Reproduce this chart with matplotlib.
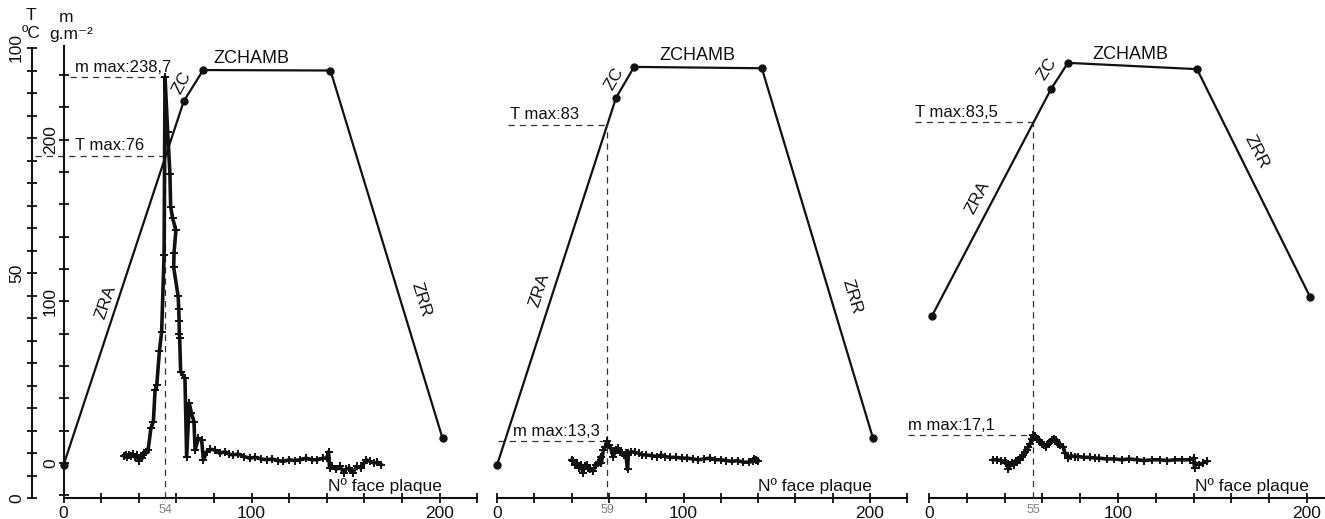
import matplotlib
matplotlib.use("Agg")
import matplotlib.pyplot as plt
from matplotlib.ticker import FixedLocator, FixedFormatter

plt.rcParams['font.family'] = ['Liberation Sans', 'DejaVu Sans']

# ---------------------------------------------------------------- data
# temperature profile along the kiln (plate face number -> T in degC)
temp_x_1 = [0, 64.0, 74.3, 142.0, 201.6]
temp_y_1 = [7.3, 88.2, 95.1, 95.0, 13.3]
temp_x_2 = [0, 63.8, 73.5, 142.0, 201.6]
temp_y_2 = [7.3, 88.9, 95.8, 95.5, 13.3]
temp_x_3 = [1.5, 64.6, 73.5, 141.8, 201.6]
temp_y_3 = [40.4, 90.9, 96.7, 95.3, 44.7]

# deposited mass per face (g.m-2)
mass_x_1 = [32, 33, 34, 35, 36, 37, 38, 39, 40, 41, 42, 43, 44, 45,
            46.5, 47.8, 48.7, 49.6, 51.0, 52.2, 53.5, 54.0,
            55.4, 56.6, 57.0, 58.0, 59.8, 58.8, 58.6, 61.0, 61.3, 61.5,
            61.6, 61.8, 62.3, 64.6, 65.5, 66.9, 68.0, 69.4, 70.0, 71.7,
            73.5, 74.4, 76.2, 78, 80.6, 83, 86, 88, 90, 93, 96, 99, 102,
            105, 108, 111, 114, 117, 120, 123, 126, 129, 132, 135, 138,
            140, 141, 141.5, 143, 145, 147, 149, 150, 152, 154, 156, 158,
            160, 161, 163, 165, 167, 169]
mass_y_1 = [4.5, 5, 4, 5, 4.5, 5.5, 3.5, 5, 1.5, 4, 3, 6, 7, 8,
            21.6, 25.5, 45, 48, 69, 81, 128.6, 238.7,
            205, 179, 158.5, 151.5, 144, 130, 121, 103, 95, 88,
            80, 77, 56.5, 52.4, 3.9, 37, 31, 25.5, 8, 15.3,
            14, 1.9, 7, 8.5, 8, 6, 7, 5.5, 5, 5.5, 4, 3, 3.5,
            2.5, 2, 2.5, 1.5, 1, 2, 1.5, 2, 3, 2, 2, 3,
            3, 7, -3, -2, -4, -2, -6, -4, -3, -6, -2, -3,
            0, 2, 1, 0, 0.5, -1]

mass_x_2 = [40, 41, 42, 43, 44, 45, 46, 47, 48, 49, 50, 51.5, 53, 54,
            55.5, 56, 57, 58, 59, 60, 61, 62.3, 63, 64, 65, 66, 67, 68,
            69, 70, 70.5, 72, 74, 76, 78, 80, 83, 86, 88, 90, 93, 96, 99,
            102, 105, 108, 111, 114, 117, 120, 123, 126, 129, 132, 135,
            137, 138, 139, 140]
mass_y_2 = [2, 1, -1, 0, -3, -1, -6, -2, -1, -3, -4, -5, -1, 0,
            4, 0, 8, 10, 13.3, 11, 9, 4, 6, 8, 9, 7, 6, 5,
            6, -4, 6, 7, 6.5, 6, 5, 5, 4.5, 4, 5, 4, 3.5, 3.5, 3,
            3, 2.5, 2, 2.5, 3, 2, 2, 1.5, 1, 1.5, 0.5, 0.5,
            1, 2.5, 2, 1]

mass_x_3 = [34, 36, 38, 40, 41, 42, 43, 44, 45, 46, 47, 48, 49, 50, 51,
            52, 52.6, 53.5, 54.3, 55, 55.5, 56, 57, 58, 58.7, 60, 61, 62,
            63, 64, 65, 66, 67, 67.7, 68.5, 69.5, 71, 72, 73.6, 75, 77,
            79, 82, 85, 88, 90, 94, 98, 102, 106, 110, 114, 118, 122, 126,
            130, 134, 138, 140, 140.5, 141, 143, 145, 147]
mass_y_3 = [2, 2, 1.5, 1, 0, -4, -1, 0, -1, 1, 2, 2, 4, 5, 7,
            8, 10, 12, 15, 17.1, 16, 16.5, 15, 14, 13, 12, 11, 10,
            12, 13, 14, 15, 14, 13, 12, 11, 10, 6, 3, 4.5, 4,
            4, 3.5, 3.5, 3, 3, 2.5, 2.5, 2, 2.5, 2, 1.5, 2, 2, 1.5,
            2, 2, 2, 3, -3, 0, -1, 0, 1]

# maxima reported on each panel
peak_face = [54, 59, 55]
t_max = [76, 83, 83.5]
m_max = [238.7, 13.3, 17.1]
t_max_text = ["T max:76", "T max:83", "T max:83,5"]
m_max_text = ["m max:238,7", "m max:13,3", "m max:17,1"]

x_ticks = list(range(0, 221, 20))
x_labels = {0: "0", 100: "100", 200: "200"}
t_ticks = list(range(0, 101, 5))
t_labels = {0: "0", 50: "50", 100: "100"}
m_ticks = list(range(-20, 259, 20))
m_labels = {0: "0", 100: "100", 200: "200"}

# ---------------------------------------------------------------- layout
W, H = 1325, 519
fig = plt.figure(figsize=(W / 100, H / 100), dpi=100)
fig.patch.set_facecolor("white")

INK = "#111111"
T_TOP = 105
T0_PX = 498          # pixel row of the x axis
T_SCALE = 4.5        # px per degC
M_PER_T = 2.783      # mass units per degC on the shared vertical
M_AT_T0 = -21.65
m_lim = (M_AT_T0, M_AT_T0 + T_TOP * M_PER_T)

# (pixel of face 0, px per face, xmin, xmax)
panels = [(63.5, 1.88, -20, 225), (497, 1.865, -5, 225), (929, 1.89, -15, 225)]

temps = [(temp_x_1, temp_y_1), (temp_x_2, temp_y_2), (temp_x_3, temp_y_3)]
masses = [(mass_x_1, mass_y_1), (mass_x_2, mass_y_2), (mass_x_3, mass_y_3)]

# label placement: (x, T, rotation) for ZRA, ZC, ZCHAMB, ZRR
zone_pos = [
    [(22.6, 43.5, 71), (63.0, 92.3, 62), (99.7, 97.6, 0), (190.0, 44.0, -73)],
    [(22.6, 46.3, 72), (62.8, 93.2, 60), (107.2, 98.4, 0), (190.2, 44.7, -73)],
    [(25.8, 66.8, 62), (62.2, 95.4, 57), (106.3, 98.6, 0), (173.5, 76.9, -63)],
]
zone_names = ["ZRA", "ZC", "ZCHAMB", "ZRR"]
tmax_start = [-15.2, 5.9, -7.4]
mmax_start = [3.5, 0.5, -11.0]
mtext_x = [6.1, 8.6, -11.0]
ttext_x = [6.1, 7.0, -7.4]

DASH = (0, (5, 4))

for i, (x0, ppu, xlo, xhi) in enumerate(panels):
    left = (x0 + xlo * ppu) / W
    width = (xhi - xlo) * ppu / W
    bottom = (H - T0_PX) / H
    height = T_TOP * T_SCALE / H
    ax = fig.add_axes([left, bottom, width, height])
    ax.set_xlim(xlo, xhi)
    ax.set_ylim(0, T_TOP)
    ax.patch.set_alpha(0)
    ax2 = ax.twinx()
    ax2.set_ylim(*m_lim)
    ax2.patch.set_alpha(0)

    for sp in ["top", "right", "left"]:
        ax.spines[sp].set_visible(False)
    for sp in ax2.spines.values():
        sp.set_visible(False)

    # x axis
    ax.spines["bottom"].set_bounds(0, 220)
    ax.spines["bottom"].set_linewidth(1.5)
    ax.spines["bottom"].set_color(INK)
    ax.xaxis.set_major_locator(FixedLocator(x_ticks))
    ax.xaxis.set_major_formatter(FixedFormatter([x_labels.get(t, "") for t in x_ticks]))
    ax.tick_params(axis="x", direction="inout", length=7, width=1.3, colors=INK,
                   labelsize=12.5, pad=2)
    ax.set_xticks([peak_face[i]], minor=True)
    ax.set_xticklabels([str(peak_face[i])], minor=True, fontsize=9, color="#808080")
    ax.tick_params(axis="x", which="minor", length=0, pad=4)

    if i == 0:
        # temperature axis
        ax.spines["left"].set_visible(True)
        ax.spines["left"].set_position(("data", -17))
        ax.spines["left"].set_bounds(0, 100)
        ax.spines["left"].set_linewidth(1.5)
        ax.spines["left"].set_color(INK)
        ax.yaxis.set_major_locator(FixedLocator(t_ticks))
        ax.yaxis.set_major_formatter(FixedFormatter([t_labels.get(t, "") for t in t_ticks]))
        ax.tick_params(axis="y", direction="inout", length=7, width=1.3, colors=INK,
                       labelsize=12.5, labelrotation=90, pad=2)
        for lab in ax.get_yticklabels():
            lab.set_va("center")
        # mass axis
        ax2.spines["left"].set_visible(True)
        ax2.spines["left"].set_position(("data", 0))
        ax2.spines["left"].set_bounds(-20, 258)
        ax2.spines["left"].set_linewidth(1.5)
        ax2.spines["left"].set_color(INK)
        ax2.yaxis.set_ticks_position("left")
        ax2.yaxis.set_label_position("left")
        ax2.yaxis.set_major_locator(FixedLocator(m_ticks))
        ax2.yaxis.set_major_formatter(FixedFormatter([m_labels.get(t, "") for t in m_ticks]))
        ax2.tick_params(axis="y", direction="inout", length=7, width=1.3, colors=INK,
                        labelsize=12.5, labelrotation=90, pad=0.5, right=False,
                        labelright=False, left=True, labelleft=True)
        for lab in ax2.get_yticklabels():
            lab.set_va("center")
    else:
        ax.tick_params(axis="y", left=False, labelleft=False)
        ax2.tick_params(axis="y", right=False, labelright=False)

    # temperature profile
    tx, ty = temps[i]
    ax.plot(tx, ty, color=INK, lw=1.6, marker="o", ms=5, zorder=4)

    # mass curve
    mx, my = masses[i]
    ax2.plot(mx, my, color=INK, lw=2.6, marker="+", ms=5.5, mew=1.4,
             solid_joinstyle="round", zorder=4)

    # guide lines for the maxima
    ax.plot([tmax_start[i], peak_face[i]], [t_max[i], t_max[i]], ls=DASH,
            lw=0.9, color="#333333", zorder=2)
    ax2.plot([mmax_start[i], peak_face[i]], [m_max[i], m_max[i]], ls=DASH,
             lw=0.9, color="#333333", zorder=2)
    top_m = max(m_max[i], (t_max[i]) * M_PER_T + M_AT_T0)
    ax2.plot([peak_face[i], peak_face[i]], [m_lim[0], top_m], ls=DASH,
             lw=0.9, color="#333333", zorder=2)

    ax.text(ttext_x[i], t_max[i] + 0.6, t_max_text[i], fontsize=12, color=INK,
            ha="left", va="bottom")
    ax2.text(mtext_x[i], m_max[i] + 1.5, m_max_text[i], fontsize=12, color=INK,
             ha="left", va="bottom")

    # zone names
    for name, (zx, zy, rot) in zip(zone_names, zone_pos[i]):
        ax.text(zx, zy, name, fontsize=13 if name == "ZCHAMB" else 12.5,
                color=INK, rotation=rot, rotation_mode="anchor",
                ha="center", va="center")

    ax.text(201, 0.9, "Nº face plaque", fontsize=12.5, color=INK,
            ha="right", va="bottom")

# axis titles of the shared vertical scales
fig.text(31 / W, 1 - 16 / H, "T", fontsize=12.5, color=INK, ha="center", va="center")
fig.text(31 / W, 1 - 33 / H, "ºC", fontsize=12.5, color=INK, ha="center", va="center")
fig.text(66 / W, 1 - 18 / H, "m", fontsize=12.5, color=INK, ha="center", va="center")
fig.text(71 / W, 1 - 35 / H, "g.m⁻²", fontsize=12.5, color=INK, ha="center", va="center")

fig.savefig("out.png", dpi=100, facecolor="white")
